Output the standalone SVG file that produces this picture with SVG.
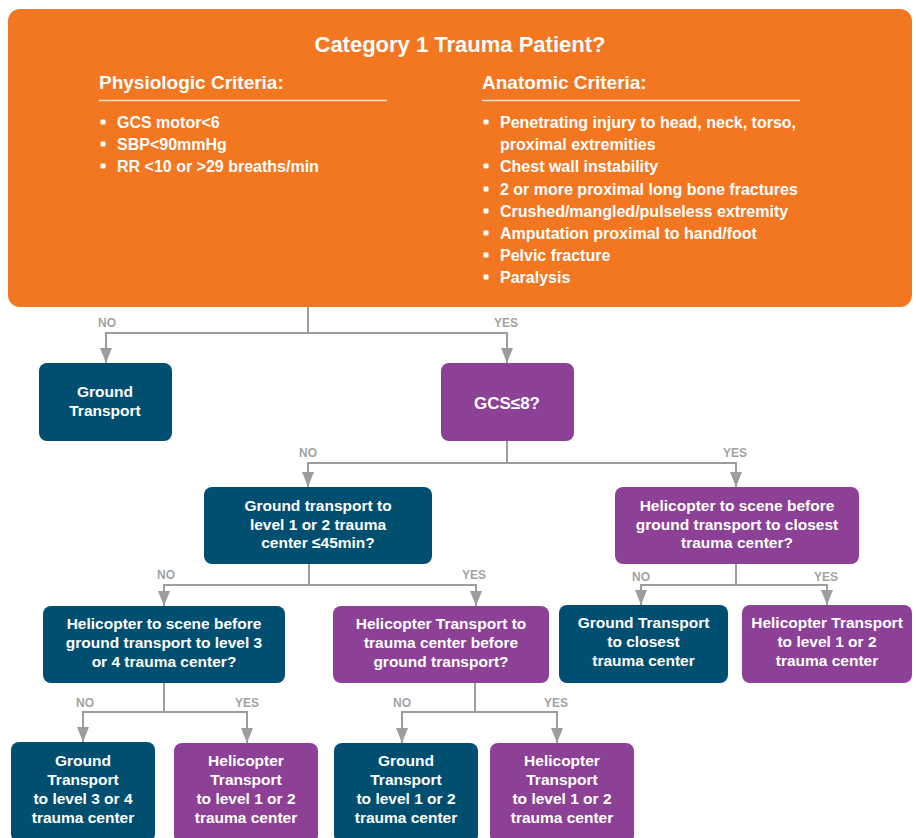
<svg xmlns="http://www.w3.org/2000/svg" width="916" height="838" viewBox="0 0 916 838">
<defs>
<style>
.t{font-family:"Liberation Sans",Arial,sans-serif;font-weight:bold;fill:#fff;}
.n{font-size:15.5px;text-anchor:middle;}
.h1{font-size:22px;text-anchor:middle;}
.h2{font-size:19px;}
.b{font-size:16px;}
.lab{font-family:"Liberation Sans",Arial,sans-serif;font-weight:bold;font-size:12px;fill:#a3a3a3;text-anchor:middle;}
.blue{fill:#004F71;}
.purple{fill:#8C4196;}
.conn path{fill:none;stroke:#9d9d9d;stroke-width:2;}
.bul{fill:#fff;}
</style>
<marker id="arr" markerUnits="userSpaceOnUse" markerWidth="15" markerHeight="12" viewBox="0 0 15 12" refX="15" refY="6" orient="auto">
<path d="M0,0 L15,6 L0,12 z" fill="#9d9d9d"/>
</marker>
</defs>
<rect width="916" height="838" fill="#fff"/>

<g id="category1">
<rect x="8" y="9" width="904" height="298" rx="12" fill="#F37721"/>
<text class="t h1" x="460" y="52">Category 1 Trauma Patient?</text>
<text class="t h2" x="99" y="89">Physiologic Criteria:</text>
<line x1="99" y1="100.5" x2="387" y2="100.5" stroke="#FDE3CF" stroke-width="1.5"/>
<text class="t h2" x="482" y="89">Anatomic Criteria:</text>
<line x1="482" y1="100.5" x2="800" y2="100.5" stroke="#FDE3CF" stroke-width="1.5"/>
<g class="bul">
<rect x="100.5" y="119.5" width="5" height="5" rx="1"/>
<rect x="100.5" y="141.5" width="5" height="5" rx="1"/>
<rect x="100.5" y="163.5" width="5" height="5" rx="1"/>
<rect x="483.5" y="119.5" width="5" height="5" rx="1"/>
<rect x="483.5" y="163.5" width="5" height="5" rx="1"/>
<rect x="483.5" y="186.5" width="5" height="5" rx="1"/>
<rect x="483.5" y="208.5" width="5" height="5" rx="1"/>
<rect x="483.5" y="230.5" width="5" height="5" rx="1"/>
<rect x="483.5" y="252.5" width="5" height="5" rx="1"/>
<rect x="483.5" y="274.5" width="5" height="5" rx="1"/>
</g>
<text class="t b" x="117" y="128">GCS motor&lt;6</text>
<text class="t b" x="117" y="150">SBP&lt;90mmHg</text>
<text class="t b" x="117" y="172">RR &lt;10 or &gt;29 breaths/min</text>
<text class="t b" x="500" y="128">Penetrating injury to head, neck, torso,</text>
<text class="t b" x="500" y="150">proximal extremities</text>
<text class="t b" x="500" y="172">Chest wall instability</text>
<text class="t b" x="500" y="194.5">2 or more proximal long bone fractures</text>
<text class="t b" x="500" y="216.5">Crushed/mangled/pulseless extremity</text>
<text class="t b" x="500" y="239">Amputation proximal to hand/foot</text>
<text class="t b" x="500" y="261">Pelvic fracture</text>
<text class="t b" x="500" y="283">Paralysis</text>
</g>

<g id="connectors" class="conn">
<path d="M308,307 V333"/>
<path d="M308,333 H106 V363" marker-end="url(#arr)"/>
<path d="M308,333 H507 V363" marker-end="url(#arr)"/>
<path d="M507,441 V463"/>
<path d="M507,463 H308 V487" marker-end="url(#arr)"/>
<path d="M507,463 H736 V487" marker-end="url(#arr)"/>
<path d="M309,564 V585"/>
<path d="M309,585 H164 V606" marker-end="url(#arr)"/>
<path d="M309,585 H476 V606" marker-end="url(#arr)"/>
<path d="M736,564 V585"/>
<path d="M736,585 H641 V605" marker-end="url(#arr)"/>
<path d="M736,585 H827 V605" marker-end="url(#arr)"/>
<path d="M164,683 V712"/>
<path d="M164,712 H83 V742" marker-end="url(#arr)"/>
<path d="M164,712 H247 V743" marker-end="url(#arr)"/>
<path d="M475,683 V712"/>
<path d="M475,712 H402 V743" marker-end="url(#arr)"/>
<path d="M475,712 H557 V743" marker-end="url(#arr)"/>
</g>
<g id="labels">
<text class="lab" x="107" y="327">NO</text>
<text class="lab" x="506" y="327">YES</text>
<text class="lab" x="308" y="457">NO</text>
<text class="lab" x="735" y="457">YES</text>
<text class="lab" x="166" y="579">NO</text>
<text class="lab" x="474" y="579">YES</text>
<text class="lab" x="641" y="581">NO</text>
<text class="lab" x="826" y="581">YES</text>
<text class="lab" x="85" y="707">NO</text>
<text class="lab" x="247" y="707">YES</text>
<text class="lab" x="402" y="707">NO</text>
<text class="lab" x="556" y="707">YES</text>
</g>

<g id="ground1">
<rect class="blue" x="39" y="363" width="133" height="78" rx="8"/>
<text class="t n" x="105" y="397">Ground</text>
<text class="t n" x="105" y="415.5">Transport</text>
</g>
<g id="gcs">
<rect class="purple" x="441" y="363" width="133" height="78" rx="8"/>
<text class="t n" x="507" y="409" style="font-size:17px">GCS≤8?</text>
</g>
<g id="ground45">
<rect class="blue" x="204" y="487" width="228" height="77" rx="8"/>
<text class="t n" x="318" y="511">Ground transport to</text>
<text class="t n" x="318" y="529.5">level 1 or 2 trauma</text>
<text class="t n" x="318" y="548">center ≤45min?</text>
</g>
<g id="heliClosest">
<rect class="purple" x="615" y="487" width="244" height="77" rx="8"/>
<text class="t n" x="737" y="511">Helicopter to scene before</text>
<text class="t n" x="737" y="529.5">ground transport to closest</text>
<text class="t n" x="737" y="548">trauma center?</text>
</g>
<g id="heliScene34">
<rect class="blue" x="43" y="606" width="242" height="77" rx="8"/>
<text class="t n" x="164" y="629">Helicopter to scene before</text>
<text class="t n" x="164" y="648">ground transport to level 3</text>
<text class="t n" x="164" y="667">or 4 trauma center?</text>
</g>
<g id="heliBefore">
<rect class="purple" x="333" y="606" width="216" height="77" rx="8"/>
<text class="t n" x="441" y="629">Helicopter Transport to</text>
<text class="t n" x="441" y="648">trauma center before</text>
<text class="t n" x="441" y="667">ground transport?</text>
</g>
<g id="groundClosest">
<rect class="blue" x="559" y="605" width="169" height="78" rx="8"/>
<text class="t n" x="643.5" y="628">Ground Transport</text>
<text class="t n" x="643.5" y="647">to closest</text>
<text class="t n" x="643.5" y="666">trauma center</text>
</g>
<g id="heliL12a">
<rect class="purple" x="742" y="605" width="170" height="78" rx="8"/>
<text class="t n" x="827" y="628">Helicopter Transport</text>
<text class="t n" x="827" y="647">to level 1 or 2</text>
<text class="t n" x="827" y="666">trauma center</text>
</g>
<g id="groundL34">
<rect class="blue" x="11" y="742" width="144" height="100" rx="8"/>
<text class="t n" x="83" y="766">Ground</text>
<text class="t n" x="83" y="785">Transport</text>
<text class="t n" x="83" y="804">to level 3 or 4</text>
<text class="t n" x="83" y="823">trauma center</text>
</g>
<g id="heliL12b">
<rect class="purple" x="174" y="743" width="144" height="100" rx="8"/>
<text class="t n" x="246" y="766">Helicopter</text>
<text class="t n" x="246" y="785">Transport</text>
<text class="t n" x="246" y="804">to level 1 or 2</text>
<text class="t n" x="246" y="823">trauma center</text>
</g>
<g id="groundL12">
<rect class="blue" x="334" y="743" width="144" height="100" rx="8"/>
<text class="t n" x="406" y="766">Ground</text>
<text class="t n" x="406" y="785">Transport</text>
<text class="t n" x="406" y="804">to level 1 or 2</text>
<text class="t n" x="406" y="823">trauma center</text>
</g>
<g id="heliL12c">
<rect class="purple" x="490" y="743" width="144" height="100" rx="8"/>
<text class="t n" x="562" y="766">Helicopter</text>
<text class="t n" x="562" y="785">Transport</text>
<text class="t n" x="562" y="804">to level 1 or 2</text>
<text class="t n" x="562" y="823">trauma center</text>
</g>
</svg>
